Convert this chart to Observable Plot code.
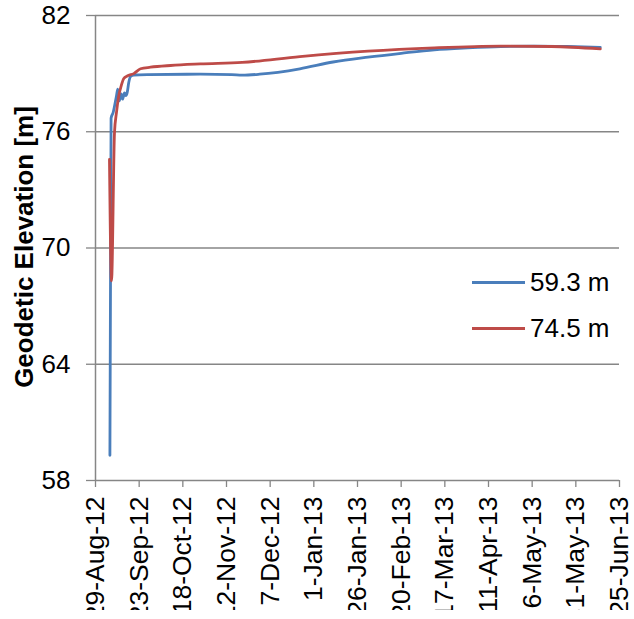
<!DOCTYPE html>
<html><head><meta charset="utf-8">
<script src="https://cdn.jsdelivr.net/npm/d3@7"></script>
<script src="https://cdn.jsdelivr.net/npm/@observablehq/plot@0.6"></script>
<style>
html,body{margin:0;padding:0;background:#fff;overflow:hidden;}
#wrap{position:relative;width:634px;height:610px;overflow:hidden;background:#fff;}
.lg{position:absolute;left:472px;height:30px;display:flex;align-items:center;font-family:"Liberation Sans",Arial,sans-serif;font-size:26px;color:#000;white-space:nowrap;}
.lg span.ln{display:inline-block;width:53px;height:3px;margin-right:5px;}
</style></head><body><div id="wrap"></div>
<script>
const seriesNames = ["59.3 m", "74.5 m"];
const seriesColors = ["#4A7EBB", "#BE4B48"];
const yTitle = "Geodetic Elevation [m]";

const blueDates = ["2012-09-06 06:00","2012-09-06 22:00","2012-09-08 03:00","2012-09-10 00:00","2012-09-10 18:00","2012-09-11 14:00","2012-09-12 17:00","2012-09-13 11:00","2012-09-14 14:00","2012-09-15 08:00","2012-09-16 04:00","2012-09-17 01:00","2012-09-18 01:00","2012-09-19 22:00","2012-09-28 00:00","2012-10-28 00:00","2012-11-15 00:00","2012-11-21 00:00","2012-12-01 00:00","2012-12-24 00:00","2013-01-12 00:00","2013-02-01 00:00","2013-02-20 00:00","2013-03-11 00:00","2013-03-30 00:00","2013-04-18 00:00","2013-05-07 00:00","2013-05-26 00:00","2013-06-14 00:00"];
const blueValues = [59.3,76.7,77.0,77.85,78.2,77.6,77.95,77.68,78.0,77.86,78.03,78.54,78.85,78.93,78.95,78.97,78.95,78.92,78.97,79.25,79.6,79.85,80.05,80.23,80.33,80.4,80.42,80.4,80.36];

const redDates = ["2012-09-06 00:00","2012-09-07 04:00","2012-09-08 21:00","2012-09-10 00:00","2012-09-11 08:00","2012-09-12 17:00","2012-09-14 05:00","2012-09-16 04:00","2012-09-19 22:00","2012-09-23 19:00","2012-09-29 12:00","2012-10-11 00:00","2012-10-28 00:00","2012-11-21 00:00","2012-12-24 00:00","2013-02-01 00:00","2013-03-11 00:00","2013-04-18 00:00","2013-05-17 00:00","2013-06-14 00:00"];
const redValues = [74.57,68.3,75.96,76.99,77.86,78.37,78.75,78.88,79.0,79.25,79.33,79.42,79.5,79.58,79.88,80.16,80.33,80.42,80.4,80.28];

const xTickDates = ["2012-08-29","2012-09-23","2012-10-18","2012-11-12","2012-12-07","2013-01-01","2013-01-26","2013-02-20","2013-03-17","2013-04-11","2013-05-06","2013-05-31","2013-06-25"];
const yTicks = [58, 64, 70, 76, 82];

const parseDT = d3.utcParse("%Y-%m-%d %H:%M");
const parseD = d3.utcParse("%Y-%m-%d");
const xTicks = xTickDates.map(parseD);

const data = [
  ...blueDates.map((d, i) => ({date: parseDT(d), value: blueValues[i], series: seriesNames[0]})),
  ...redDates.map((d, i) => ({date: parseDT(d), value: redValues[i], series: seriesNames[1]}))
];

const axisGray = "#868686";

const chart = Plot.plot({
  width: 634, height: 619,
  marginLeft: 95, marginRight: 15, marginTop: 15, marginBottom: 139,
  style: {fontFamily: "'Liberation Sans', Arial, sans-serif", fontSize: "26px", background: "white", color: "black"},
  x: {type: "utc", domain: [xTicks[0], xTicks[xTicks.length - 1]]},
  y: {domain: [yTicks[0], yTicks[yTicks.length - 1]]},
  color: {domain: seriesNames, range: seriesColors},
  marks: [
    Plot.gridY(yTicks.slice(1), {stroke: axisGray, strokeOpacity: 1, strokeWidth: 1.3}),
    Plot.ruleX([xTicks[0]], {stroke: axisGray, strokeWidth: 1.5}),
    Plot.ruleY([yTicks[0]], {stroke: axisGray, strokeWidth: 1.5}),
    Plot.axisY(yTicks, {tickSize: 9, tickPadding: 16, stroke: axisGray, fill: "black", label: null, strokeWidth: 1.3}),
    Plot.axisX(xTicks, {tickSize: 7, tickPadding: 9, tickRotate: -90, fontSize: 26.5, tickFormat: d3.utcFormat("%-d-%b-%y"), label: null, stroke: axisGray, fill: "black", strokeWidth: 1.3}),
    Plot.line(data, {x: "date", y: "value", z: "series", stroke: "series", strokeWidth: 2.8, curve: "monotone-x"})
  ]
});

d3.select(chart).append("text")
  .attr("transform", "translate(24,247) rotate(-90)")
  .attr("text-anchor", "middle")
  .attr("dominant-baseline", "central")
  .style("font-weight", "bold")
  .style("font-size", "26px")
  .attr("fill", "black")
  .text(yTitle);

const wrap = document.getElementById("wrap");
wrap.appendChild(chart);

seriesNames.forEach((name, i) => {
  const row = document.createElement("div");
  row.className = "lg";
  row.style.top = (i === 0 ? 267 : 313) + "px";
  const ln = document.createElement("span");
  ln.className = "ln";
  ln.style.background = seriesColors[i];
  row.appendChild(ln);
  row.appendChild(document.createTextNode(name));
  wrap.appendChild(row);
});
</script>
</body></html>
